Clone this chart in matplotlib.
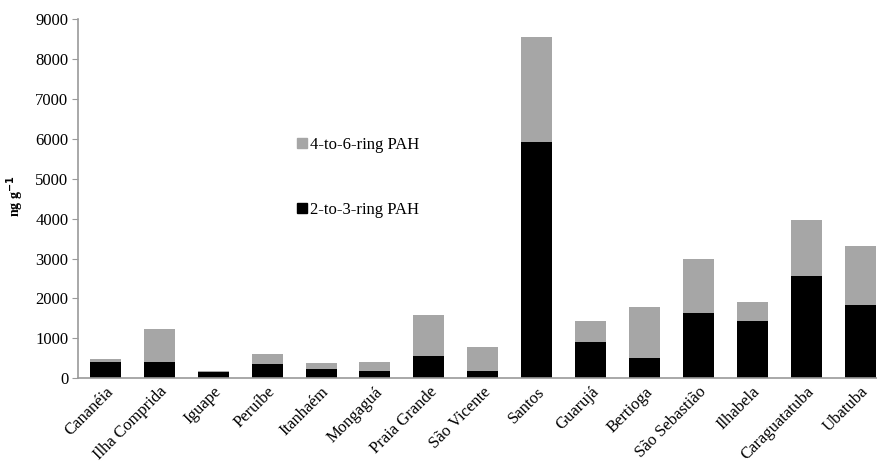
import numpy as np
import matplotlib
matplotlib.use('Agg')
import matplotlib.pyplot as plt
from matplotlib.patches import Patch

plt.rcParams['font.family'] = ['Liberation Serif', 'DejaVu Serif']

# sampling sites along the coast, south to north
sites = ['Cananéia', 'Ilha Comprida', 'Iguape', 'Peruíbe', 'Itanhaém',
         'Mongaguá', 'Praia Grande', 'São Vicente', 'Santos', 'Guarujá',
         'Bertioga', 'São Sebastião', 'Ilhabela', 'Caraguatatuba', 'Ubatuba']

# PAH concentrations (ng/g)
low_ring = [420, 400, 150, 365, 230, 195, 565, 175, 5910, 900,
            500, 1640, 1430, 2555, 1835]
high_ring = [55, 825, 35, 235, 160, 215, 1015, 615, 2645, 530,
             1280, 1355, 475, 1405, 1485]

black = '#000000'
grey = '#a6a6a6'
axis_grey = '#9a9a9a'

fig = plt.figure(figsize=(8.77, 4.65), dpi=100)
# axes runs a little past the right border, as in the original layout
ax = fig.add_axes([78 / 877, 1 - 378.3 / 465, (887.5 - 78) / 877, (378.3 - 19) / 465])

x = np.arange(len(sites))
w = 0.575
ax.bar(x, low_ring, w, color=black, zorder=2)
ax.bar(x, high_ring, w, bottom=low_ring, color=grey, zorder=2)

ax.set_xlim(-0.51, len(sites) - 0.49)
ax.set_ylim(0, 9000)
ax.set_yticks(range(0, 9001, 1000))

for s in ['top', 'right']:
    ax.spines[s].set_visible(False)
for s in ['left', 'bottom']:
    ax.spines[s].set_color(axis_grey)
    ax.spines[s].set_linewidth(1.2)

ax.tick_params(axis='y', direction='out', length=4, color=axis_grey,
               labelsize=12, pad=3)
ax.tick_params(axis='x', length=0, labelsize=12, pad=4)
ax.set_xticks(x)
ax.set_xticklabels(sites, rotation=45, ha='right', rotation_mode='anchor')

fig.text(15 / 877, 1 - 196 / 465, 'ng g$^{\\mathbf{-1}}$', rotation=90,
         fontsize=10, fontweight='bold', ha='center', va='center')

handles = [Patch(color=grey, label='4-to-6-ring PAH'),
           Patch(color=black, label='2-to-3-ring PAH')]
fig.legend(handles=handles, loc='upper left',
           bbox_to_anchor=(289 / 877, 1 - 128.5 / 465), frameon=False,
           fontsize=12, handlelength=0.55, handleheight=0.55,
           handletextpad=0.2, labelspacing=2.95, borderpad=0)

fig.savefig('out.png', dpi=100)
